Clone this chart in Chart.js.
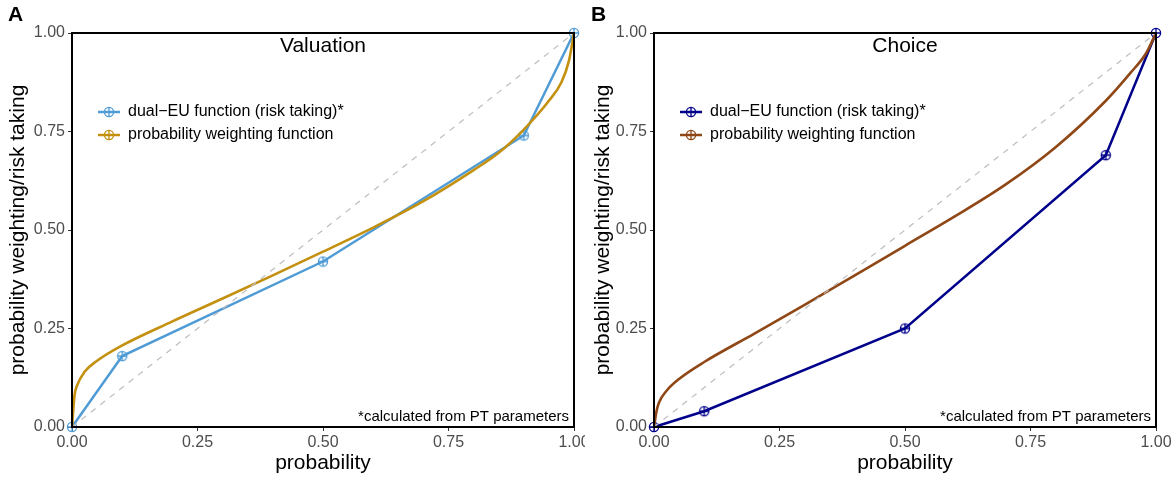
<!DOCTYPE html>
<html lang="en">
<head>
<meta charset="UTF-8">
<title>Valuation vs Choice weighting</title>
<script src="https://cdn.jsdelivr.net/npm/chart.js@4"></script>
<style>
  body { margin: 0; background: #fff; }
  .panel { position: absolute; top: 0; height: 478px; overflow: hidden; }
  #panelA { left: 0; width: 585px; }
  #panelB { left: 585px; width: 589px; }
</style>
</head>
<body>
<div class="panel" id="panelA"><canvas id="chartA" width="585" height="478"></canvas></div>
<div class="panel" id="panelB"><canvas id="chartB" width="589" height="478"></canvas></div>
<script>
// dual-EU points (same probabilities in both panels)
const probs = [0, 0.1, 0.5, 0.9, 1];
const valuationDualEU = [0, 0.18, 0.42, 0.74, 1];
const choiceDualEU = [0, 0.04, 0.25, 0.69, 1];

// probability weighting curves
const valuationPwfP = [0, 0.005, 0.01, 0.025, 0.05, 0.1, 0.2, 0.3, 0.4, 0.5, 0.6, 0.7, 0.8, 0.85, 0.9, 0.95, 0.975, 0.99, 1];
const valuationPwfW = [0, 0.08, 0.105, 0.14, 0.168, 0.207, 0.268, 0.326, 0.385, 0.445, 0.506, 0.573, 0.652, 0.696, 0.755, 0.828, 0.875, 0.93, 1];

const choicePwfP = [0, 0.005, 0.01, 0.025, 0.05, 0.1, 0.2, 0.3, 0.4, 0.5, 0.6, 0.7, 0.8, 0.9, 0.95, 0.98, 1];
const choicePwfW = [0, 0.04, 0.062, 0.092, 0.122, 0.165, 0.237, 0.31, 0.385, 0.46, 0.535, 0.615, 0.71, 0.828, 0.9, 0.948, 1];

const diagonal = [0, 1];
const tickValues = [0, 0.25, 0.5, 0.75, 1];
const tickLabels = ['0.00', '0.25', '0.50', '0.75', '1.00'];
const legendLabels = ['dual\u2212EU function (risk taking)*', 'probability weighting function'];

const FONT = '"Liberation Sans", Arial, Helvetica, sans-serif';
Chart.defaults.font.family = FONT;

function pts(xs, ys) {
  return xs.map((x, i) => ({ x: x, y: ys[i] }));
}

// circle with a plus inside (ggplot shape 10)
function makeMarker(color) {
  const c = document.createElement('canvas');
  c.width = 14; c.height = 14;
  const g = c.getContext('2d');
  g.strokeStyle = color;
  g.lineWidth = 1.3;
  g.beginPath();
  g.arc(7, 7, 4.6, 0, Math.PI * 2);
  g.moveTo(2.4, 7); g.lineTo(11.6, 7);
  g.moveTo(7, 2.4); g.lineTo(7, 11.6);
  g.stroke();
  return c;
}

const panelDecor = {
  id: 'panelDecor',
  afterDraw(chart, args, opts) {
    const { ctx, chartArea: a } = chart;
    ctx.save();
    ctx.strokeStyle = '#000';
    ctx.lineWidth = 2;
    ctx.strokeRect(a.left, a.top, a.right - a.left, a.bottom - a.top);

    ctx.fillStyle = '#000';
    ctx.textBaseline = 'middle';
    ctx.textAlign = 'left';
    ctx.font = 'bold 21px ' + FONT;
    ctx.fillText(opts.letter, opts.letterX, 15);

    ctx.textAlign = 'center';
    ctx.font = '21px ' + FONT;
    ctx.fillText(opts.title, (a.left + a.right) / 2, 46);

    // legend inside the panel
    ctx.textAlign = 'left';
    ctx.font = '16px ' + FONT;
    opts.legend.forEach((item, i) => {
      const y = 112 + i * 23;
      const x0 = a.left + 26;
      ctx.strokeStyle = item.color;
      ctx.lineWidth = 2.5;
      ctx.beginPath();
      ctx.moveTo(x0, y); ctx.lineTo(x0 + 22, y);
      ctx.stroke();
      ctx.drawImage(item.marker, x0 + 11 - 7, y - 7);
      ctx.fillStyle = '#000';
      ctx.fillText(item.label, x0 + 30, y);
    });

    ctx.textAlign = 'right';
    ctx.font = '15px ' + FONT;
    ctx.fillText('*calculated from PT parameters', a.right - 5, a.bottom - 10);
    ctx.restore();
  }
};

function makeChart(id, cfg) {
  const ctx = document.getElementById(id).getContext('2d');
  const dualMarker = makeMarker(cfg.dualColor);
  const pwfMarker = makeMarker(cfg.pwfColor);
  return new Chart(ctx, {
    type: 'scatter',
    data: {
      datasets: [
        {
          data: pts(diagonal, diagonal),
          showLine: true,
          borderColor: '#bdbdbd',
          borderWidth: 1.2,
          borderDash: [6, 6],
          pointRadius: 0
        },
        {
          label: legendLabels[1],
          data: pts(cfg.pwfP, cfg.pwfW),
          showLine: true,
          borderColor: cfg.pwfColor,
          borderWidth: 2.6,
          cubicInterpolationMode: 'monotone',
          pointRadius: 0
        },
        {
          label: legendLabels[0],
          data: pts(probs, cfg.dual),
          showLine: true,
          borderColor: cfg.dualColor,
          borderWidth: 2.5,
          pointStyle: dualMarker,
          pointRadius: 5,
          clip: false
        }
      ]
    },
    options: {
      responsive: false,
      animation: false,
      layout: { padding: { left: 0, right: cfg.padRight, top: 33, bottom: 0 } },
      plugins: {
        legend: { display: false },
        tooltip: { enabled: false },
        panelDecor: {
          letter: cfg.letter,
          letterX: cfg.letterX,
          title: cfg.title,
          legend: [
            { label: legendLabels[0], color: cfg.dualColor, marker: dualMarker },
            { label: legendLabels[1], color: cfg.pwfColor, marker: pwfMarker }
          ]
        }
      },
      scales: {
        x: {
          type: 'linear',
          min: 0,
          max: 1,
          afterBuildTicks: s => { s.ticks = tickValues.map(v => ({ value: v })); },
          afterFit: s => { s.height = 51; s.paddingLeft = 0; s.paddingRight = 0; },
          grid: { display: true, drawOnChartArea: false, tickLength: 4, color: '#333' },
          border: { display: false },
          ticks: {
            color: '#4d4d4d',
            font: { size: 16 },
            padding: 2,
            maxRotation: 0,
            callback: v => tickLabels[tickValues.indexOf(v)]
          },
          title: {
            display: true,
            text: 'probability',
            color: '#000',
            font: { size: 21 },
            padding: { top: 0, bottom: 2 }
          }
        },
        y: {
          type: 'linear',
          min: 0,
          max: 1,
          afterBuildTicks: s => { s.ticks = tickValues.map(v => ({ value: v })); },
          afterFit: s => { s.width = cfg.axisWidth; s.paddingTop = 0; s.paddingBottom = 0; },
          grid: { display: true, drawOnChartArea: false, tickLength: 4, color: '#333' },
          border: { display: false },
          ticks: {
            color: '#4d4d4d',
            font: { size: 16 },
            padding: 3,
            callback: v => tickLabels[tickValues.indexOf(v)]
          },
          title: {
            display: true,
            text: 'probability weighting/risk taking',
            color: '#000',
            font: { size: 21 },
            padding: { top: 6, bottom: 0 }
          }
        }
      }
    },
    plugins: [panelDecor]
  });
}

makeChart('chartA', {
  letter: 'A', letterX: 8, title: 'Valuation',
  dual: valuationDualEU, pwfP: valuationPwfP, pwfW: valuationPwfW,
  dualColor: '#4f9bd5', pwfColor: '#c39010',
  axisWidth: 72, padRight: 11
});

makeChart('chartB', {
  letter: 'B', letterX: 6, title: 'Choice',
  dual: choiceDualEU, pwfP: choicePwfP, pwfW: choicePwfW,
  dualColor: '#00008b', pwfColor: '#8f4716',
  axisWidth: 69, padRight: 18
});
</script>
</body>
</html>
